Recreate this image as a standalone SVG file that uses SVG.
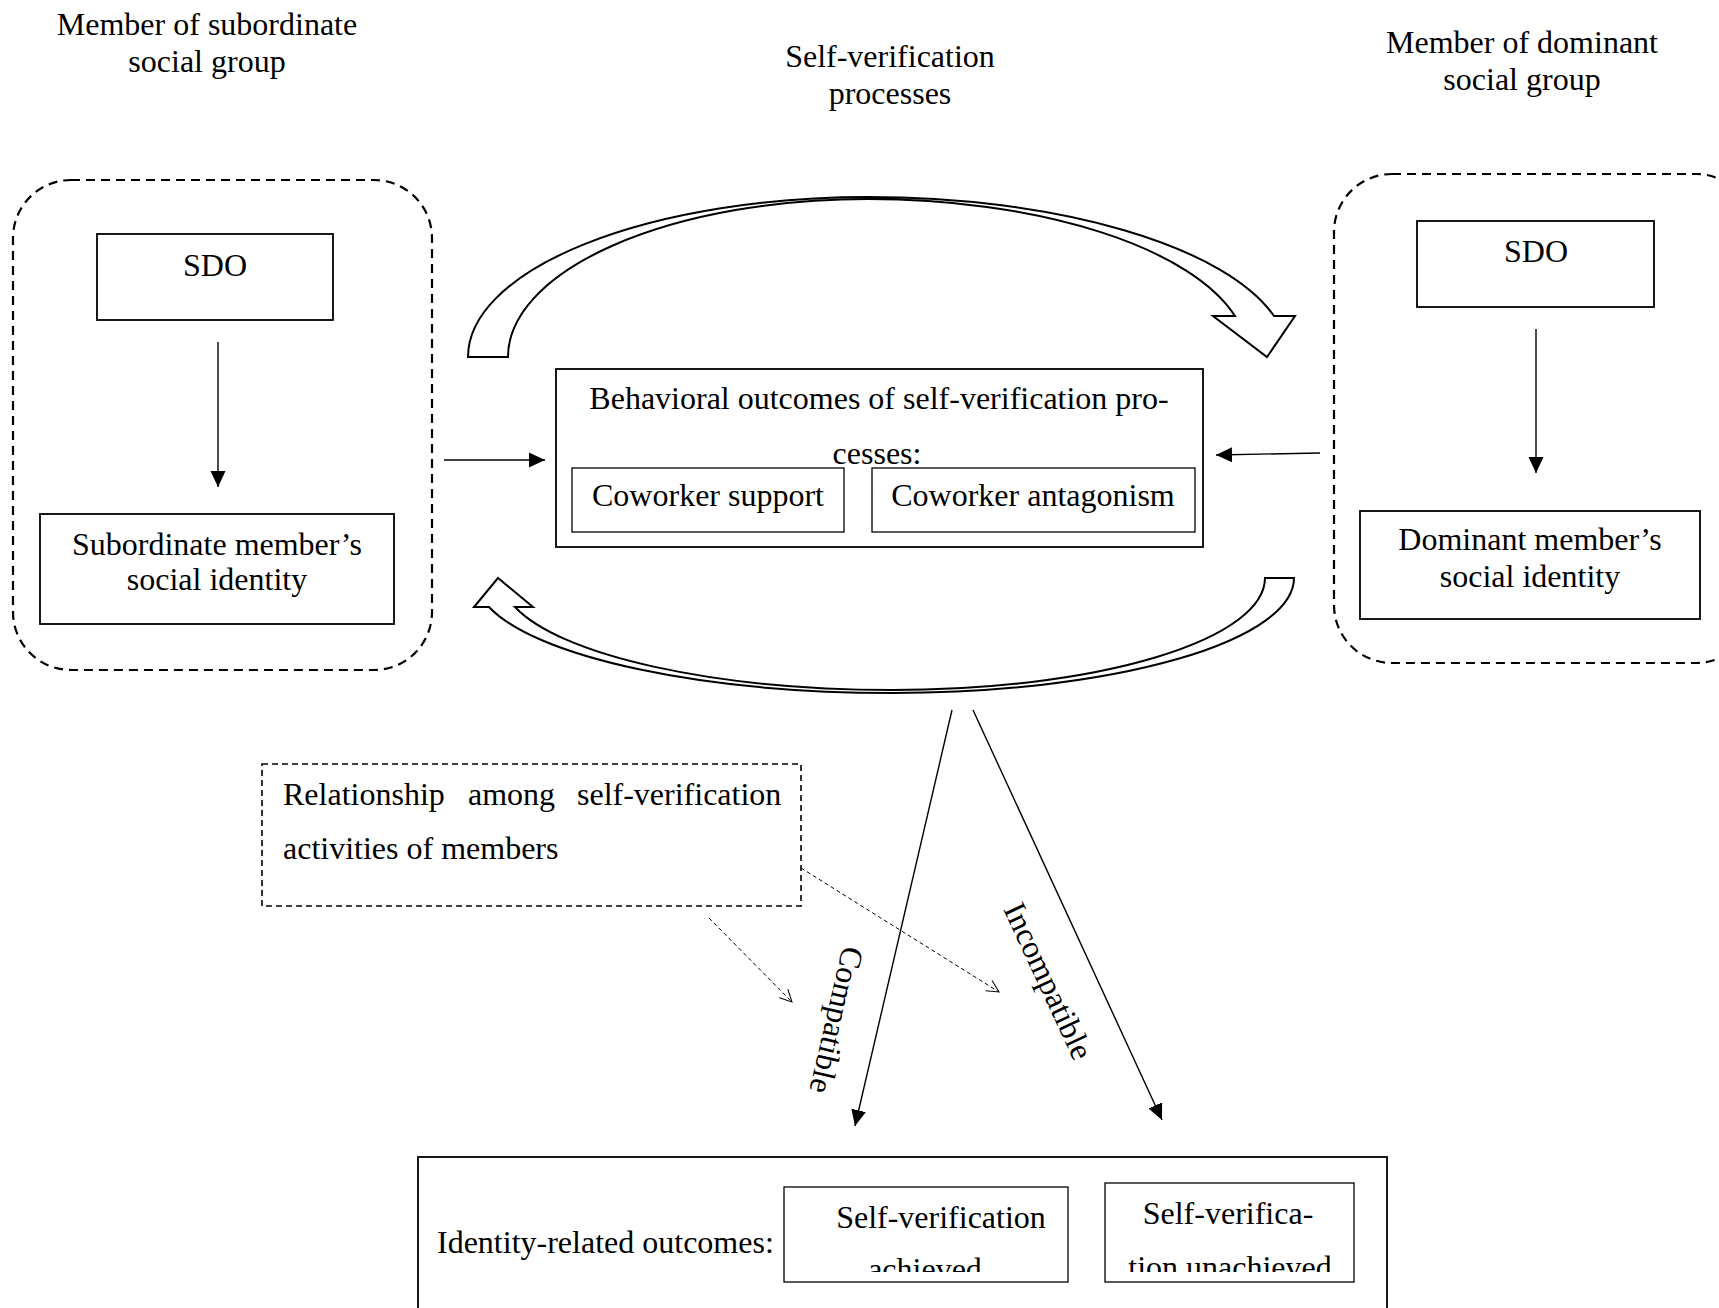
<svg xmlns="http://www.w3.org/2000/svg" width="1719" height="1308" viewBox="0 0 1719 1308">
<style>
text{font-family:"Liberation Serif","Times New Roman",serif;font-size:32px;fill:#000}
.c{text-anchor:middle}
.box{fill:#fff;stroke:#000;stroke-width:1.8}
.sub{fill:#fff;stroke:#000;stroke-width:1.3}
.grp{fill:none;stroke:#000;stroke-width:2.2;stroke-dasharray:9 6}
.rel{fill:#fff;stroke:#000;stroke-width:1.6;stroke-dasharray:6 4}
.ln{fill:none;stroke:#000;stroke-width:1.4}
.dl{fill:none;stroke:#000;stroke-width:1;stroke-dasharray:4 3}
.blk{fill:#fff;stroke:#000;stroke-width:2;stroke-linejoin:miter}
</style>
<defs>
<marker id="ah" markerUnits="userSpaceOnUse" markerWidth="16" markerHeight="16" viewBox="0 0 16 16" refX="16" refY="8" orient="auto">
<path d="M0,0.5 L16,8 L0,15.5 z" fill="#000"/>
</marker>
<marker id="oh" markerUnits="userSpaceOnUse" markerWidth="14" markerHeight="14" viewBox="0 0 14 14" refX="13" refY="7" orient="auto">
<path d="M1,1 L13,7 L1,13" fill="none" stroke="#000" stroke-width="1"/>
</marker>
<clipPath id="cp1"><rect x="784" y="1187" width="284" height="85"/></clipPath>
<clipPath id="cp2"><rect x="1105" y="1183" width="249" height="89"/></clipPath>
</defs>

<g id="titles">
<text class="c" x="207" y="35">Member of subordinate</text>
<text class="c" x="207" y="72">social group</text>
<text class="c" x="890" y="67">Self-verification</text>
<text class="c" x="890" y="104">processes</text>
<text class="c" x="1522" y="53">Member of dominant</text>
<text class="c" x="1522" y="90">social group</text>
</g>

<g id="subordinate-group">
<rect class="grp" x="13" y="180" width="419" height="490" rx="58" ry="58"/>
</g>
<g id="sdo-left">
<rect class="box" x="97" y="234" width="236" height="86"/>
<text class="c" x="215" y="276">SDO</text>
</g>
<g id="subordinate-identity">
<rect class="box" x="40" y="514" width="354" height="110"/>
<text class="c" x="217" y="555">Subordinate member’s</text>
<text class="c" x="217" y="590">social identity</text>
</g>

<g id="dominant-group">
<rect class="grp" x="1334" y="174" width="420" height="489" rx="58" ry="58"/>
</g>
<g id="sdo-right">
<rect class="box" x="1417" y="221" width="237" height="86"/>
<text class="c" x="1536" y="262">SDO</text>
</g>
<g id="dominant-identity">
<rect class="box" x="1360" y="511" width="340" height="108"/>
<text class="c" x="1530" y="550">Dominant member’s</text>
<text class="c" x="1530" y="587">social identity</text>
</g>

<g id="behavioral-outcomes">
<rect class="box" x="556" y="369" width="647" height="178"/>
<text class="c" x="879" y="409">Behavioral outcomes of self-verification pro-</text>
<text class="c" x="877" y="464">cesses:</text>
</g>
<g id="coworker-support">
<rect class="sub" x="572" y="468" width="272" height="64"/>
<text class="c" x="708" y="506">Coworker support</text>
</g>
<g id="coworker-antagonism">
<rect class="sub" x="872" y="468" width="323" height="64"/>
<text class="c" x="1033" y="506">Coworker antagonism</text>
</g>

<g id="relationship">
<rect class="rel" x="262" y="764" width="539" height="142"/>
<text y="805"><tspan x="283">Relationship</tspan><tspan x="468">among</tspan><tspan x="577">self-verification</tspan></text>
<text x="283" y="859">activities of members</text>
</g>

<g id="identity-outcomes">
<rect class="box" x="418" y="1157" width="969" height="200"/>
<text x="437" y="1253">Identity-related outcomes:</text>
</g>
<g id="sv-achieved">
<rect class="sub" x="784" y="1187" width="284" height="95"/>
<text class="c" x="941" y="1228">Self-verification</text>
<text class="c" x="925" y="1280" clip-path="url(#cp1)">achieved</text>
</g>
<g id="sv-unachieved">
<rect class="sub" x="1105" y="1183" width="249" height="99"/>
<text class="c" x="1228" y="1224">Self-verifica-</text>
<text class="c" x="1230" y="1278" clip-path="url(#cp2)">tion unachieved</text>
</g>

<g id="connectors">
<path class="blk" d="M468,357 A400,160 0 0 1 868,197 A420,160 0 0 1 1274,316 L1295,316 L1267,357 L1213,316 L1235,316 A380,158 0 0 0 868,199 A360,158 0 0 0 508,357 Z"/>
<path class="blk" d="M1294,578 A401,115 0 0 1 893,693 A417,115 0 0 1 489,607 L474,607 L498,578 L533,607 L515,607 A391,112 0 0 0 893,690 A372,112 0 0 0 1265,578 Z"/>
<line class="ln" x1="218" y1="342" x2="218" y2="487" marker-end="url(#ah)"/>
<line class="ln" x1="1536" y1="329" x2="1536" y2="473" marker-end="url(#ah)"/>
<line class="ln" x1="444" y1="460" x2="545" y2="460" marker-end="url(#ah)"/>
<line class="ln" x1="1320" y1="453" x2="1216" y2="455" marker-end="url(#ah)"/>
<line class="ln" x1="952" y1="710" x2="855" y2="1126" marker-end="url(#ah)"/>
<line class="ln" x1="973" y1="710" x2="1162" y2="1120" marker-end="url(#ah)"/>
<line class="dl" x1="709" y1="918" x2="792" y2="1002" marker-end="url(#oh)"/>
<line class="dl" x1="801" y1="868" x2="999" y2="992" marker-end="url(#oh)"/>
<text transform="translate(843,945) rotate(103)">Compatible</text>
<text transform="translate(1003,909) rotate(65)">Incompatible</text>
</g>
</svg>
